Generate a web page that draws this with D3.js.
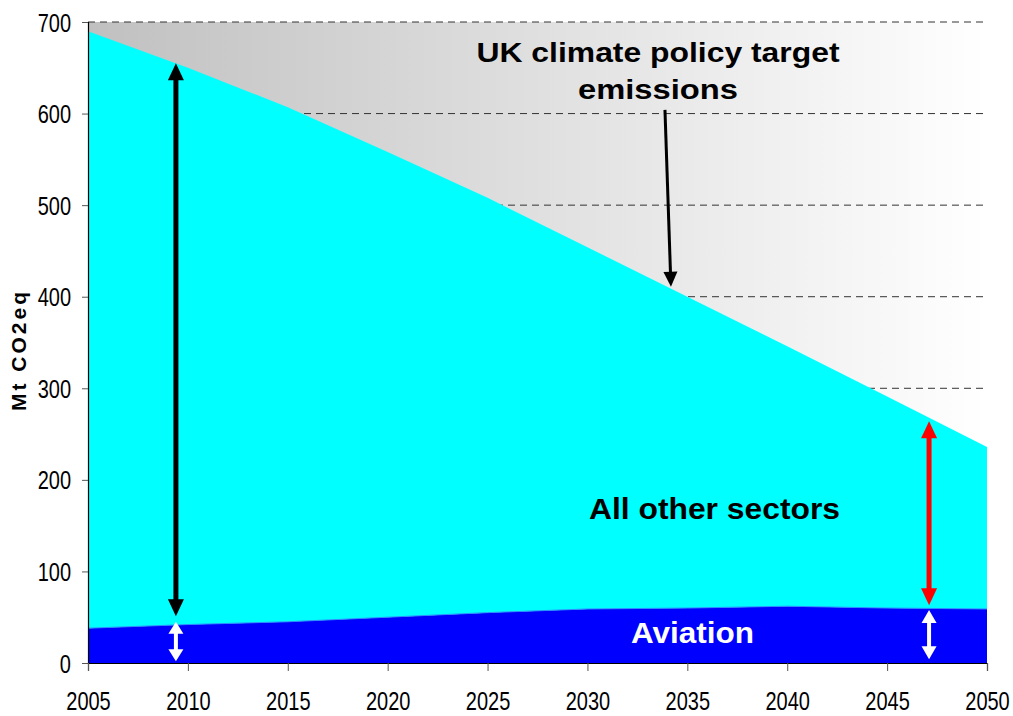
<!DOCTYPE html>
<html>
<head>
<meta charset="utf-8">
<script src="https://cdn.jsdelivr.net/npm/d3@7"></script>
<style>
  body { margin: 0; background: #fff; }
  svg { display: block; }
  text { font-family: "Liberation Sans", Arial, sans-serif; }
</style>
</head>
<body>
<svg id="chart" width="1013" height="716"></svg>
<script>
// Emissions pathway, Mt CO2eq
const years = [2005, 2010, 2015, 2020, 2025, 2030, 2035, 2040, 2045, 2050];
const aviation = [38, 42, 45, 50, 55, 59, 60, 62, 60, 59];
const otherSectors = [652, 608, 562, 508, 453, 395, 340, 284, 231, 177];
const yTickValues = [0, 100, 200, 300, 400, 500, 600, 700];
const xTickValues = [2005, 2010, 2015, 2020, 2025, 2030, 2035, 2040, 2045, 2050];

// Double-headed gap markers (year, lower value, upper value)
const gapMarkers = [
  { year: 2009.4, from: 51, to: 655, color: "#000000", shaft: 5, headLen: 17, headW: 16 },
  { year: 2009.4, from: 2,  to: 45,  color: "#ffffff", shaft: 4, headLen: 12, headW: 15 },
  { year: 2047.1, from: 63, to: 264, color: "#ff0000", shaft: 5, headLen: 17, headW: 16 },
  { year: 2047.1, from: 4,  to: 58,  color: "#ffffff", shaft: 4, headLen: 13, headW: 15 }
];
// Pointer from the target label to the target line
const pointer = { from: [2033.88, 604], to: [2034.18, 411] };

const svg = d3.select("#chart");
const W = 1013, H = 716;
const x = d3.scaleLinear().domain([2005, 2050]).range([88, 987]);
const y = d3.scaleLinear().domain([0, 700]).range([663, 22]);

const rows = years.map((yr, i) => ({ year: yr, aviation: aviation[i], other: otherSectors[i] }));
const stacked = d3.stack().keys(["aviation", "other"])(rows);

// Plot background: grey fading to white
const defs = svg.append("defs");
const grad = defs.append("linearGradient").attr("id", "bgFade")
  .attr("x1", "0").attr("x2", "1").attr("y1", "0").attr("y2", "0");
grad.append("stop").attr("offset", "0").attr("stop-color", "#c0c0c0");
grad.append("stop").attr("offset", "1").attr("stop-color", "#ffffff");

svg.append("rect").attr("width", W).attr("height", H).attr("fill", "#fff");
svg.append("rect")
  .attr("x", x(2005)).attr("y", y(700))
  .attr("width", x(2050) - x(2005)).attr("height", y(0) - y(700))
  .attr("fill", "url(#bgFade)");

// Dashed gridlines
svg.append("g").selectAll("line")
  .data(yTickValues.filter(v => v > 0))
  .join("line")
  .attr("x1", x(2005)).attr("x2", x(2050))
  .attr("y1", d => y(d)).attr("y2", d => y(d))
  .attr("stroke", "#333").attr("stroke-width", 1)
  .attr("stroke-dasharray", "7,5");

// Stacked areas
const area = d3.area()
  .x(d => x(d.data.year))
  .y0(d => y(d[0]))
  .y1(d => y(d[1]));
const fills = { aviation: "#0000ff", other: "#00ffff" };
svg.append("g").selectAll("path")
  .data(stacked)
  .join("path")
  .attr("d", area)
  .attr("fill", d => fills[d.key]);

// Faint edge along the aviation top
svg.append("path")
  .datum(stacked[0])
  .attr("d", d3.line().x(d => x(d.data.year)).y(d => y(d[1])))
  .attr("fill", "none").attr("stroke", "#2a8cff").attr("stroke-width", 1);

// Axes (tick labels are tall, narrow Arial-style digits)
const yAxis = svg.append("g")
  .attr("transform", `translate(${x(2005)},0)`)
  .call(d3.axisLeft(y).tickValues(yTickValues).tickSize(6).tickFormat(d3.format("d")));
yAxis.select(".domain").attr("stroke", "#000").attr("stroke-width", 1.2);
yAxis.selectAll(".tick line").attr("stroke", "#555");
yAxis.selectAll(".tick text")
  .attr("font-size", 20).attr("fill", "#000")
  .attr("font-family", "\"Liberation Sans\", Arial, sans-serif")
  .attr("x", 0).attr("y", 0).attr("dy", null)
  .attr("text-anchor", "end")
  .attr("transform", "translate(-17,9) scale(1,1.3)");

const xAxis = svg.append("g")
  .attr("transform", `translate(0,${y(0)})`)
  .call(d3.axisBottom(x).tickValues(xTickValues).tickSize(8).tickFormat(d3.format("d")));
xAxis.select(".domain").attr("stroke", "#000").attr("stroke-width", 1.2);
xAxis.selectAll(".tick line").attr("stroke", "#555");
xAxis.selectAll(".tick text")
  .attr("font-size", 20).attr("fill", "#000")
  .attr("font-family", "\"Liberation Sans\", Arial, sans-serif")
  .attr("x", 0).attr("y", 0).attr("dy", null)
  .attr("text-anchor", "middle")
  .attr("transform", "translate(0,46.5) scale(1,1.25)");

// Axis title
svg.append("text")
  .attr("transform", `translate(26,350) rotate(-90)`)
  .attr("text-anchor", "middle")
  .attr("font-size", 21).attr("font-weight", "bold")
  .attr("letter-spacing", 3)
  .text("Mt CO2eq");

// Arrow helpers
function triangle(tip, dir, len, w) {
  const [tx, ty] = tip;
  const [dx, dy] = dir;
  const bx = tx - dx * len, by = ty - dy * len;
  const nx = -dy, ny = dx;
  return [[tx, ty], [bx + nx * w / 2, by + ny * w / 2], [bx - nx * w / 2, by - ny * w / 2]];
}
const g = svg.append("g");
gapMarkers.forEach(m => {
  const px = x(m.year);
  const yTop = y(m.to), yBot = y(m.from);
  g.append("line")
    .attr("x1", px).attr("x2", px)
    .attr("y1", yTop + m.headLen - 1).attr("y2", yBot - m.headLen + 1)
    .attr("stroke", m.color).attr("stroke-width", m.shaft);
  g.append("polygon").attr("points", triangle([px, yTop], [0, -1], m.headLen, m.headW).join(" ")).attr("fill", m.color);
  g.append("polygon").attr("points", triangle([px, yBot], [0, 1], m.headLen, m.headW).join(" ")).attr("fill", m.color);
});

{
  const p1 = [x(pointer.from[0]), y(pointer.from[1])];
  const p2 = [x(pointer.to[0]), y(pointer.to[1])];
  const len = Math.hypot(p2[0] - p1[0], p2[1] - p1[1]);
  const dir = [(p2[0] - p1[0]) / len, (p2[1] - p1[1]) / len];
  const hl = 15;
  g.append("line")
    .attr("x1", p1[0]).attr("y1", p1[1])
    .attr("x2", p2[0] - dir[0] * (hl - 1)).attr("y2", p2[1] - dir[1] * (hl - 1))
    .attr("stroke", "#000").attr("stroke-width", 3);
  g.append("polygon").attr("points", triangle(p2, dir, hl, 14).join(" ")).attr("fill", "#000");
}

// Labels
svg.append("text")
  .attr("x", 658).attr("y", 62).attr("text-anchor", "middle")
  .attr("font-size", 28).attr("font-weight", "bold")
  .attr("textLength", 363).attr("lengthAdjust", "spacingAndGlyphs")
  .text("UK climate policy target");
svg.append("text")
  .attr("x", 658).attr("y", 99).attr("text-anchor", "middle")
  .attr("font-size", 28).attr("font-weight", "bold")
  .attr("textLength", 160).attr("lengthAdjust", "spacingAndGlyphs")
  .text("emissions");
svg.append("text")
  .attr("x", 714.5).attr("y", 519).attr("text-anchor", "middle")
  .attr("font-size", 30).attr("font-weight", "bold")
  .attr("textLength", 251).attr("lengthAdjust", "spacingAndGlyphs")
  .text("All other sectors");
svg.append("text")
  .attr("x", 692.5).attr("y", 642.5).attr("text-anchor", "middle")
  .attr("font-size", 30).attr("font-weight", "bold").attr("fill", "#fff")
  .attr("textLength", 123).attr("lengthAdjust", "spacingAndGlyphs")
  .text("Aviation");
</script>
</body>
</html>
